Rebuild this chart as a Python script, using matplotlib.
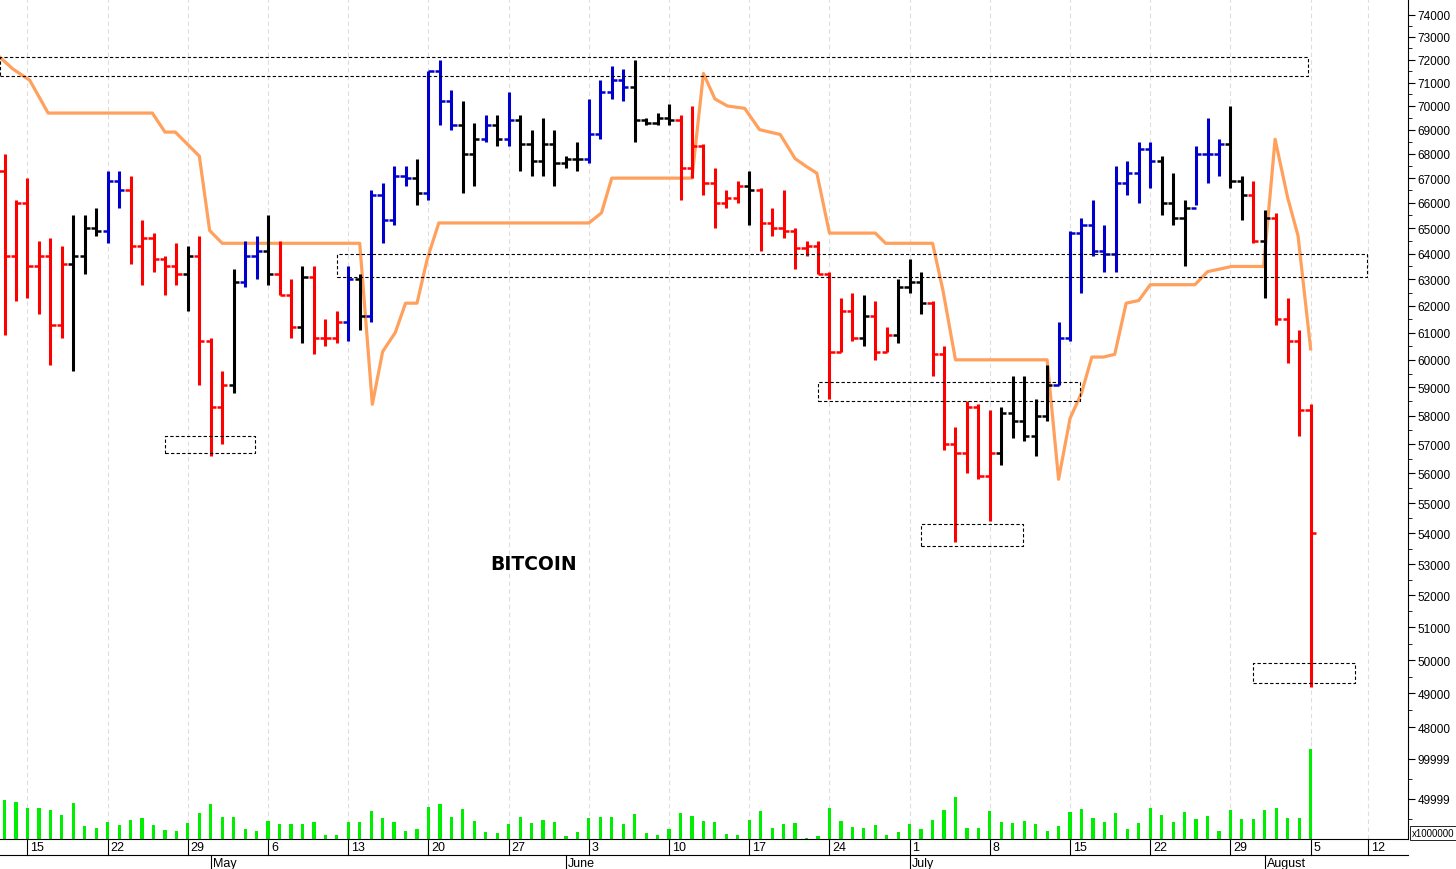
import matplotlib
matplotlib.use("Agg")
import matplotlib.pyplot as plt
from matplotlib.ticker import FixedLocator, NullFormatter
import numpy as np

plt.rcParams['font.family'] = ['Liberation Sans', 'DejaVu Sans']

# daily bars, Apr 13 2024 .. Aug 5 2024 (index 0 = Apr 13)
highs = [68000, 66100, 67000, 64500, 64600, 64300, 65500, 65500, 65800, 67300,
         67300, 67100, 65300, 64800, 63900, 64400, 64300, 64700, 60800, 59600,
         63400, 64500, 64700, 65500, 64500, 63000, 63500, 63500, 61500, 61800,
         63500, 63200, 66500, 66800, 67500, 67500, 67800, 71500, 72000, 70700,
         70200, 69300, 69600, 69600, 70600, 69600, 69000, 69500, 69000, 67900,
         68500, 70300, 71100, 71700, 71600, 72000, 69500, 69700, 70100, 69600,
         70000, 68400, 67400, 66500, 66900, 67300, 66600, 65800, 66500, 65000,
         64500, 64500, 63300, 62300, 62500, 62400, 62200, 61200, 63000, 63800,
         63300, 62200, 60500, 57600, 58500, 58400, 58200, 58300, 59400, 59400,
         58600, 59800, 61400, 64900, 65400, 66100, 65100, 67500, 67700, 68500,
         68500, 67900, 67200, 66100, 68300, 69500, 68600, 70000, 67100, 66900,
         65700, 65600, 62300, 61100, 58400]
lows = [60900, 62200, 62300, 61700, 59800, 60800, 59600, 63200, 64700, 64400,
        65800, 63600, 62800, 63300, 62400, 62800, 61800, 59100, 56600, 57000,
        58800, 62700, 63000, 62800, 62400, 60800, 60600, 60200, 60500, 60600,
        60700, 61100, 61400, 64400, 65100, 66700, 65900, 66100, 69200, 69000,
        66400, 66700, 68500, 68300, 68300, 67300, 67100, 67100, 66700, 67400,
        67300, 67600, 68600, 70300, 70200, 68500, 69200, 69200, 69200, 66100,
        67000, 66300, 65000, 65800, 66000, 65100, 64100, 64700, 64600, 63400,
        63900, 63200, 58600, 60300, 60700, 60500, 60000, 60300, 60600, 62500,
        61700, 59400, 56800, 53700, 56000, 55800, 54400, 56300, 57200, 57100,
        56600, 57800, 59100, 60700, 62500, 63900, 63300, 63300, 66300, 66000,
        66600, 65500, 65100, 63500, 65900, 66800, 67100, 66600, 65300, 64400,
        62300, 61300, 59900, 57300, 49200]
closes = [63900, 66000, 63500, 63900, 61300, 63600, 63900, 65000, 64900, 66900,
          66500, 64300, 64600, 63800, 63500, 63200, 63900, 60700, 58300, 59100,
          62900, 63900, 64100, 63200, 62400, 61200, 63100, 60800, 60800, 61400,
          63000, 61600, 66300, 65300, 67100, 67000, 66400, 71500, 70200, 69200,
          68000, 68600, 69200, 68600, 69400, 68400, 67700, 68400, 67600, 67800,
          67800, 68800, 70600, 71100, 70800, 69400, 69300, 69500, 69400, 67400,
          68300, 66800, 66000, 66200, 66700, 66500, 65200, 65000, 64900, 64200,
          64300, 63200, 60300, 61800, 60800, 61600, 60300, 60900, 62700, 62900,
          62100, 60200, 57000, 56700, 58300, 55900, 56700, 58100, 57800, 57300,
          58000, 59100, 60800, 64800, 65100, 64100, 64000, 66800, 67200, 68200,
          67700, 66000, 65400, 65800, 68000, 68000, 68400, 66900, 66300, 64500,
          65400, 61500, 60700, 58200, 54000]
first_open = 67300
opens = [first_open] + closes[:-1]
colors = ("RRRRRRKKKBBRRRRRKRRRKBBKRRKRRRBKBBBBKBBBKKBKBKKKKKKBBBBKKKKRRRRRRKRRRRRRRRRKRRKKKRRRRRRKKKKKBBBBBBBBBKKKBBBKKRKRRRR")
volumes = [49100, 45900, 39100, 38400, 36600, 30400, 45400, 15900, 13400, 21300,
           17100, 23800, 25900, 17500, 11600, 9600, 20000, 32100, 44100, 27100,
           27100, 12900, 10400, 22500, 18400, 18400, 18400, 21300, 5400, 5400,
           21300, 21300, 34600, 25900, 21300, 9600, 12100, 39600, 43400, 27100,
           37100, 22500, 8400, 7500, 18800, 27100, 20000, 23800, 21300, 3400,
           9100, 25900, 27100, 27500, 18400, 31300, 7100, 5400, 12900, 32500,
           28400, 22500, 21300, 5900, 5400, 23800, 35000, 14100, 18400, 20000,
           900, 3400, 38400, 22500, 15400, 14100, 17500, 4600, 9100, 18800,
           12900, 23800, 36300, 52100, 13400, 13400, 34600, 21300, 20000, 22100,
           18800, 9600, 15900, 33400, 37500, 26300, 21300, 32500, 12500, 20000,
           38800, 29600, 21300, 33400, 25000, 28400, 10400, 36300, 25000, 25000,
           36300, 38800, 26300, 26300, 112500]

# orange trailing line (bar index, price)
trail_x = [-0.4, 0.7, 2.2, 3.8, 12.9, 14.0, 14.9, 17.0, 17.9, 19.0, 31.0, 32.1, 33.0,
           34.1, 35.0, 36.0, 36.9, 37.9, 51.0, 52.1, 53.0, 60.0, 61.0, 62.0, 63.1,
           64.6, 65.9, 67.7, 69.0, 69.9, 70.9, 72.0, 76.0, 76.9, 81.0, 81.9, 83.0,
           91.0, 92.0, 93.0, 94.0, 94.9, 95.9, 96.9, 97.9, 99.0, 100.0, 103.9, 105.0,
           107.1, 109.9, 110.9, 112.0, 112.9, 114.0]
trail_y = [72100, 71600, 71100, 69700, 69700, 68900, 68900, 67900, 64900, 64400, 64400,
           58400, 60300, 61000, 62100, 62100, 63800, 65200, 65200, 65600, 67000, 67000,
           71400, 70300, 70000, 69900, 69000, 68800, 67800, 67500, 67200, 64800, 64800,
           64400, 64400, 62600, 60000, 60000, 55800, 57900, 58800, 60100, 60100, 60200,
           62100, 62200, 62800, 62800, 63300, 63500, 63500, 68600, 66200, 64700, 60400]

# dashed zones: x0, x1, price low, price high
zones = [(-0.4, 113.8, 71300, 72100),
         (29.0, 118.9, 63100, 64000),
         (14.0, 21.9, 56700, 57300),
         (71.0, 93.9, 58500, 59200),
         (80.0, 88.9, 53600, 54300),
         (109.0, 117.9, 49300, 49900)]

day_ticks = [2, 9, 16, 23, 30, 37, 44, 51, 58, 65, 72, 79, 86, 93, 100, 107, 114, 119]
day_labels = ["15", "22", "29", "6", "13", "20", "27", "3", "10", "17", "24", "1",
              "8", "15", "22", "29", "5", "12"]
month_starts = [18, 49, 79, 110]
month_labels = ["May", "June", "July", "August"]

cmap = {"R": "#ff0000", "B": "#0000cc", "K": "#000000"}
W, H = 1456, 870
fig = plt.figure(figsize=(W / 100, H / 100), dpi=100)
ax = fig.add_axes([0, (H - 742) / H, 1408 / W, 742 / H])
axv = fig.add_axes([0, 30 / H, 1408 / W, 98 / H], sharex=ax)

n = len(closes)
idx = np.arange(n)
for i in idx:
    c = cmap[colors[i]]
    ax.vlines(i, lows[i], highs[i], color=c, lw=2.2)
    ax.hlines(opens[i], i - 0.45, i, color=c, lw=1.8)
    ax.hlines(closes[i], i, i + 0.45, color=c, lw=1.8)

ax.plot(trail_x, trail_y, color="#ffa05c", lw=2.3, zorder=1)
for x0, x1, lo, hi in zones:
    ax.plot([x0, x1, x1, x0, x0], [lo, lo, hi, hi, lo], color="black",
            lw=0.8, ls=(0, (3, 2)), zorder=3)

ax.set_yscale("log")
ax.set_ylim(47600, 74700)
ax.set_xlim(-0.4, 122.5)
major = np.arange(48000, 74001, 1000)
ax.yaxis.set_major_locator(FixedLocator(major))
ax.yaxis.set_minor_locator(FixedLocator(major[:-1] + 500))
ax.yaxis.set_minor_formatter(NullFormatter())
ax.set_yticklabels([str(v) for v in major])
ax.yaxis.tick_right()
ax.tick_params(axis="y", which="major", length=5, labelsize=8.5, pad=2, colors="black")
ax.tick_params(axis="y", which="minor", length=3)
ax.tick_params(axis="x", bottom=False, labelbottom=False)
for s in ["top", "left", "bottom"]:
    ax.spines[s].set_visible(False)
ax.text(0.348, 0.232, "BITCOIN", transform=ax.transAxes, fontsize=13.5,
        fontweight="bold", family="DejaVu Sans")

axv.bar(idx, volumes, width=0.28, color="#00ee00")
axv.set_ylim(0, 122500)
axv.yaxis.tick_right()
axv.set_yticks([50000, 100000])
axv.set_yticklabels(["49999", "99999"])
axv.set_yticks([25000, 75000], minor=True)
axv.tick_params(axis="y", which="major", length=5, labelsize=8.5, pad=2)
axv.tick_params(axis="y", which="minor", length=3)
axv.set_xticks(day_ticks)
axv.tick_params(axis="x", length=0, labelbottom=False)
for s in ["top", "left"]:
    axv.spines[s].set_visible(False)
axv.text(1.003, 0.03, "x1000000", transform=axv.transAxes, fontsize=7,
         bbox=dict(boxstyle="square,pad=0.2", fc="white", ec="black", lw=0.6))

for a in (ax, axv):
    for d in day_ticks:
        a.axvline(d, color="#dddddd", lw=0.8, ls=(0, (4, 3)), zorder=0)

# date rows under volume panel
row1, row2 = -16 / 98, -30 / 98
tr = axv.get_xaxis_transform()
for d, lab in zip(day_ticks, day_labels):
    axv.plot([d, d], [0, row1], color="black", lw=0.8, transform=tr, clip_on=False)
    axv.text(d + 0.25, row1 / 2, lab, transform=tr, fontsize=9, va="center", ha="left")
axv.plot([-0.4, 122.5], [row1, row1], color="black", lw=0.8, transform=tr, clip_on=False)
for d, lab in zip(month_starts, month_labels):
    x = d
    axv.plot([x, x], [row1, row2], color="black", lw=0.8, transform=tr, clip_on=False)
    axv.text(x + 0.15, (row1 + row2) / 2 - 0.01, lab, transform=tr, fontsize=9,
             va="center", ha="left")

fig.savefig("out.png", dpi=100)
